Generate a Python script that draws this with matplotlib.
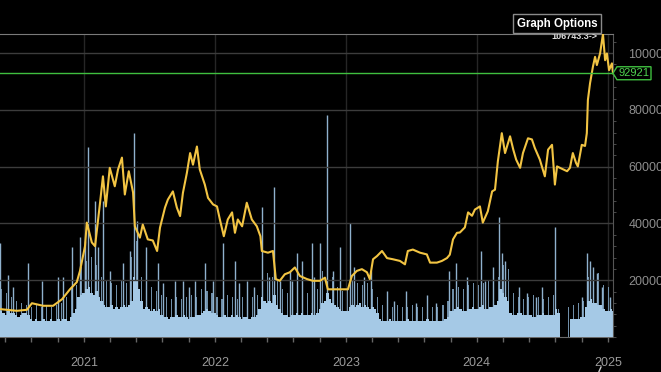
import matplotlib
matplotlib.use("Agg")
import matplotlib.pyplot as plt
import matplotlib.dates as mdates
from matplotlib.patches import Polygon
from matplotlib.lines import Line2D
import pandas as pd

plt.rcParams['font.family'] = ['Liberation Sans', 'DejaVu Sans']

# ____________________ price (USD) ____________________
price_dates = [
    "2020-05-12", "2020-06-28", "2020-07-26", "2020-08-09", "2020-09-09", "2020-10-07",
    "2020-11-01", "2020-11-23", "2020-12-12", "2020-12-21", "2021-01-04", "2021-01-09",
    "2021-01-23", "2021-02-01", "2021-02-15", "2021-02-23", "2021-03-03", "2021-03-14",
    "2021-03-28", "2021-04-06", "2021-04-17", "2021-04-25", "2021-05-06", "2021-05-18",
    "2021-05-23", "2021-06-06", "2021-06-14", "2021-06-28", "2021-07-12", "2021-07-24",
    "2021-08-01", "2021-08-15", "2021-08-23", "2021-09-06", "2021-09-17", "2021-09-26",
    "2021-10-04", "2021-10-15", "2021-10-24", "2021-11-01", "2021-11-12", "2021-11-20",
    "2021-12-04", "2021-12-13", "2021-12-27", "2022-01-07", "2022-01-15", "2022-01-26",
    "2022-02-06", "2022-02-18", "2022-02-26", "2022-03-06", "2022-03-18", "2022-03-31",
    "2022-04-14", "2022-04-28", "2022-05-08", "2022-05-12", "2022-05-29", "2022-06-12",
    "2022-06-20", "2022-07-01", "2022-07-15", "2022-07-29", "2022-08-12", "2022-08-26",
    "2022-09-15", "2022-10-01", "2022-10-21", "2022-11-04", "2022-11-12", "2022-12-07",
    "2023-01-07", "2023-01-18", "2023-02-01", "2023-02-15", "2023-03-01", "2023-03-09",
    "2023-03-18", "2023-03-29", "2023-04-12", "2023-04-26", "2023-05-12", "2023-06-01",
    "2023-06-15", "2023-06-23", "2023-07-07", "2023-07-27", "2023-08-15", "2023-08-24",
    "2023-09-12", "2023-09-26", "2023-10-10", "2023-10-18", "2023-10-27", "2023-11-07",
    "2023-11-15", "2023-11-29", "2023-12-08", "2023-12-19", "2023-12-27", "2024-01-10",
    "2024-01-18", "2024-02-01", "2024-02-13", "2024-02-21", "2024-02-29", "2024-03-11",
    "2024-03-20", "2024-04-03", "2024-04-12", "2024-04-20", "2024-05-01", "2024-05-09",
    "2024-05-23", "2024-06-03", "2024-06-11", "2024-06-25", "2024-07-09", "2024-07-18",
    "2024-07-29", "2024-08-06", "2024-08-12", "2024-08-20", "2024-09-09", "2024-09-17",
    "2024-09-25", "2024-10-04", "2024-10-09", "2024-10-20", "2024-10-29", "2024-11-03",
    "2024-11-06", "2024-11-12", "2024-11-20", "2024-11-26", "2024-12-01", "2024-12-10",
    "2024-12-18", "2024-12-24", "2024-12-29", "2025-01-04", "2025-01-12", "2025-01-15",
]
price_values = [
    9830, 9230, 9580, 11900, 11000, 11000,
    13300, 16800, 19300, 23300, 32000, 40300,
    33300, 32000, 47400, 56600, 46000, 59600,
    53100, 59000, 63200, 50200, 58400, 50900,
    39000, 35000, 39600, 34400, 34000, 30300,
    38500, 45600, 48400, 51300, 45600, 42600,
    50800, 57800, 64800, 60700, 67100, 59000,
    53700, 49000, 46700, 46000, 41400, 35500,
    41400, 43900, 36700, 41400, 39000, 47300,
    41400, 39000, 35500, 30300, 29700, 30300,
    20400, 19800, 22100, 22800, 24500, 21500,
    20400, 19800, 19800, 20900, 16800, 16800,
    16800, 21500, 23300, 23900, 22800, 20400,
    27400, 28500, 30300, 27800, 27400, 26800,
    25600, 30300, 30800, 29700, 29100, 26200,
    26200, 26800, 27800, 29000, 34400, 36700,
    36800, 38600, 43900, 42700, 44900, 46000,
    40300, 44300, 51300, 51900, 61900, 71800,
    64800, 70700, 66000, 62500, 59600, 64800,
    70000, 69600, 66600, 62500, 56600, 66000,
    67700, 53700, 60100, 59600, 58400, 59600,
    64800, 61300, 60100, 67700, 67300, 71800,
    83500, 89400, 95200, 98700, 95800, 99900,
    106743.3, 97500, 99900, 94000, 96400, 92921,
]
last_price = 92921
max_price = 106743.3

# ____________________ volume (bn USD) ____________________
vol_start = "2020-05-11"
# dense light mass, one value per week
vol_base = [
    13, 12, 11, 13, 12, 12, 11, 10, 11, 12,
    12, 11, 9, 8, 9, 8, 8, 9, 8, 8,
    9, 8, 8, 9, 8, 9, 9, 8, 10, 12,
    14, 20, 21, 22, 24, 25, 22, 21, 23, 20,
    18, 16, 15, 15, 16, 14, 15, 14, 15, 16,
    15, 16, 18, 30, 28, 24, 18, 14, 15, 14,
    13, 14, 13, 14, 11, 10, 10, 9, 10, 10,
    11, 10, 10, 11, 10, 9, 10, 10, 11, 11,
    12, 13, 14, 13, 12, 12, 11, 10, 10, 11,
    10, 10, 11, 10, 11, 10, 9, 10, 10, 9,
    10, 10, 11, 14, 20, 18, 17, 18, 17, 21,
    16, 14, 12, 11, 11, 10, 11, 11, 12, 11,
    12, 11, 11, 11, 12, 11, 12, 14, 17, 18,
    22, 19, 17, 16, 15, 14, 13, 13, 13, 15,
    16, 15, 16, 17, 15, 16, 15, 14, 15, 14,
    12, 9, 8, 8, 8, 9, 8, 8, 8, 8,
    8, 8, 9, 8, 8, 8, 8, 8, 8, 8,
    9, 8, 8, 8, 8, 8, 8, 9, 10, 13,
    13, 14, 15, 14, 13, 13, 14, 14, 15, 14,
    14, 15, 16, 14, 14, 15, 15, 16, 18, 24,
    22, 20, 18, 12, 11, 11, 12, 12, 11, 11,
    11, 11, 10, 10, 11, 11, 12, 11, 11, 11,
    11, 14, 12, 0, 0, 0, 0, 9, 9, 9,
    9, 10, 10, 15, 18, 19, 17, 17, 16, 16,
    14, 13, 13, 14, 13,
]
# thinner upper texture, one value per two weeks (offset by one week)
vol_upper = [
    24, 22, 20, 18, 17, 16, 15, 16, 15, 16,
    15, 16, 17, 20, 25, 26, 35, 38, 40, 36,
    30, 28, 27, 26, 28, 27, 40, 48, 30, 26,
    25, 23, 21, 20, 19, 20, 19, 20, 21, 20,
    24, 23, 22, 20, 19, 21, 20, 19, 20, 19,
    20, 21, 30, 32, 30, 28, 24, 22, 21, 22,
    21, 22, 23, 24, 33, 32, 30, 25, 23, 24,
    28, 27, 26, 27, 24, 20, 16, 15, 15, 16,
    15, 15, 16, 15, 15, 14, 15, 15, 16, 18,
    24, 25, 24, 26, 27, 26, 27, 28, 27, 30,
    36, 34, 22, 20, 19, 20, 21, 20, 19, 20,
    21, 14, 0, 15, 16, 17, 18, 30, 33, 32,
    26, 25, 24,
]
# single-day spikes
spike_dates = [
    "2020-05-13", "2020-06-03", "2020-06-17", "2020-07-29", "2020-09-07", "2020-10-22",
    "2020-11-05", "2020-11-30", "2020-12-20", "2021-01-04", "2021-01-12", "2021-02-01",
    "2021-02-09", "2021-02-23", "2021-03-14", "2021-04-19", "2021-05-09", "2021-05-20",
    "2021-05-28", "2021-06-22", "2021-07-26", "2021-08-10", "2021-09-12", "2021-10-04",
    "2021-10-20", "2021-11-07", "2021-12-05", "2021-12-27", "2022-01-24", "2022-02-27",
    "2022-03-10", "2022-04-01", "2022-04-20", "2022-05-13", "2022-06-01", "2022-06-15",
    "2022-07-02", "2022-07-30", "2022-08-05", "2022-08-18", "2022-09-01", "2022-09-29",
    "2022-10-05", "2022-10-21", "2022-11-09", "2022-11-25", "2022-12-15", "2023-01-12",
    "2023-01-25", "2023-02-20", "2023-03-13", "2023-04-26", "2023-05-15", "2023-06-18",
    "2023-07-15", "2023-08-16", "2023-09-10", "2023-10-16", "2023-11-05", "2023-12-05",
    "2024-01-13", "2024-01-25", "2024-02-15", "2024-03-03", "2024-03-11", "2024-03-20",
    "2024-04-28", "2024-05-20", "2024-06-15", "2024-07-01", "2024-08-05", "2024-10-20",
    "2024-11-03", "2024-11-12", "2024-11-20", "2024-12-01", "2024-12-15", "2025-01-08",
]
spike_values = [
    47, 31, 25, 37, 28, 30,
    30, 45, 50, 48, 95, 68,
    45, 68, 33, 37, 43, 102,
    58, 45, 37, 27, 28, 28,
    25, 28, 37, 28, 47, 38,
    27, 28, 25, 65, 30, 75,
    28, 33, 28, 42, 38, 47,
    30, 47, 111, 33, 45, 57,
    35, 30, 33, 23, 18, 23,
    17, 21, 17, 33, 37, 30,
    43, 28, 35, 60, 42, 38,
    25, 22, 20, 25, 55, 20,
    42, 38, 35, 32, 25, 20,
]

years = [2021, 2022, 2023, 2024, 2025]
price_ticks = [20000, 40000, 60000, 80000, 100000]

# ____________________ figure ____________________
fig = plt.figure(figsize=(6.61, 3.72), dpi=100, facecolor='black')
ax = fig.add_axes([0, 35 / 372, 613 / 661, 303 / 372])
ax.set_facecolor('black')

pdates = pd.to_datetime(price_dates)
wdates = pd.date_range(vol_start, periods=len(vol_base), freq='7D')
bdates = pd.date_range("2020-05-15", periods=len(vol_upper), freq='14D')
sdates = pd.to_datetime(spike_dates)

# volume layers (bottom)
ax.bar(bdates, vol_upper, width=3, color='#6f8ea8', edgecolor='none', zorder=2)
ax.vlines(sdates, 0, spike_values, color='#8fb1cd', lw=1, zorder=3)
ax.bar(wdates, vol_base, width=7, align='edge', color='#a5c9e6', edgecolor='none', zorder=4)
ax.set_ylim(0, 151.5)
ax.set_yticks([])

year_pos = [mdates.date2num(pd.Timestamp(f"{y}-01-01")) for y in years]
minor_pos = []
for y in range(2020, 2026):
    a = mdates.date2num(pd.Timestamp(f"{y}-01-01"))
    b = mdates.date2num(pd.Timestamp(f"{y + 1}-01-01"))
    minor_pos += [a + (b - a) * k / 5 for k in range(1, 5)]
ax.set_xticks(year_pos)
ax.set_xticklabels([str(y) for y in years])
ax.set_xticks(minor_pos, minor=True)
ax.tick_params(axis='x', which='both', length=3.5, color='#666666', width=1,
               labelcolor='#9a9a9a', labelsize=9, pad=11)
ax.grid(axis='x', color='#262626', lw=1, zorder=0)

for s in ['left', 'top', 'right']:
    ax.spines[s].set_visible(False)
ax.spines['bottom'].set_color('#6a6a6a')

# price line on twin axis (drawn on top)
ax2 = ax.twinx()
ax2.plot(pdates, price_values, color='#f2c443', lw=1.5, zorder=3)
ax2.set_ylim(0, max_price)
ax2.set_yticks(price_ticks)
ax2.set_yticklabels([str(v) for v in price_ticks])
ax2.yaxis.set_minor_locator(matplotlib.ticker.MultipleLocator(4000))
ax2.tick_params(axis='y', which='major', length=0, pad=11, labelcolor='#8e8e8e', labelsize=9)
ax2.tick_params(axis='y', which='minor', length=2.5, color='#555555')
ax2.grid(axis='y', color='#3c3c3c', lw=1, zorder=0)
ax2.spines['left'].set_visible(False)
ax2.spines['bottom'].set_visible(False)
ax2.spines['top'].set_color('#7a7a7a')
ax2.spines['right'].set_color('#555555')

ax.set_xlim(pd.Timestamp("2020-05-12"), pd.Timestamp("2025-01-15"))

# last price line + tag
ax2.axhline(last_price, color='#3fbf3f', lw=1, zorder=4)
x0, y0 = ax2.transData.transform((mdates.date2num(pd.Timestamp("2025-01-15")), last_price))
tag = [(x0, y0), (x0 + 4, y0 + 6.5), (x0 + 38, y0 + 6.5), (x0 + 38, y0 - 6.5), (x0 + 4, y0 - 6.5)]
fig.patches.append(Polygon(tag, closed=True, fc='black', ec='#3fbf3f', lw=1,
                           transform=None, zorder=5))
fig.text((x0 + 21) / 661, y0 / 372, f"{last_price}", ha='center', va='center',
         color='#4fd24f', fontsize=8, zorder=6)

# max marker text
ax2.annotate(f"{max_price}->", xy=(597 / 613, max_price), xycoords=('axes fraction', 'data'),
             xytext=(0, -1.5), textcoords='offset points', ha='right', va='center',
             color='#dddddd', fontsize=6.5, weight='bold', annotation_clip=False, zorder=6)

fig.text(557 / 661, 1 - 23.5 / 372, "Graph Options", ha='center', va='center',
         color='white', fontsize=8.3, weight='bold',
         bbox=dict(boxstyle='square,pad=0.3', fc='black', ec='#8a8a8a', lw=1))

# small cursor stroke at the bottom edge
fig.add_artist(Line2D([599 / 661, 601 / 661], [0.5 / 372, 5 / 372], color='#cccccc', lw=1))

fig.savefig("out.png", dpi=100, facecolor='black')
